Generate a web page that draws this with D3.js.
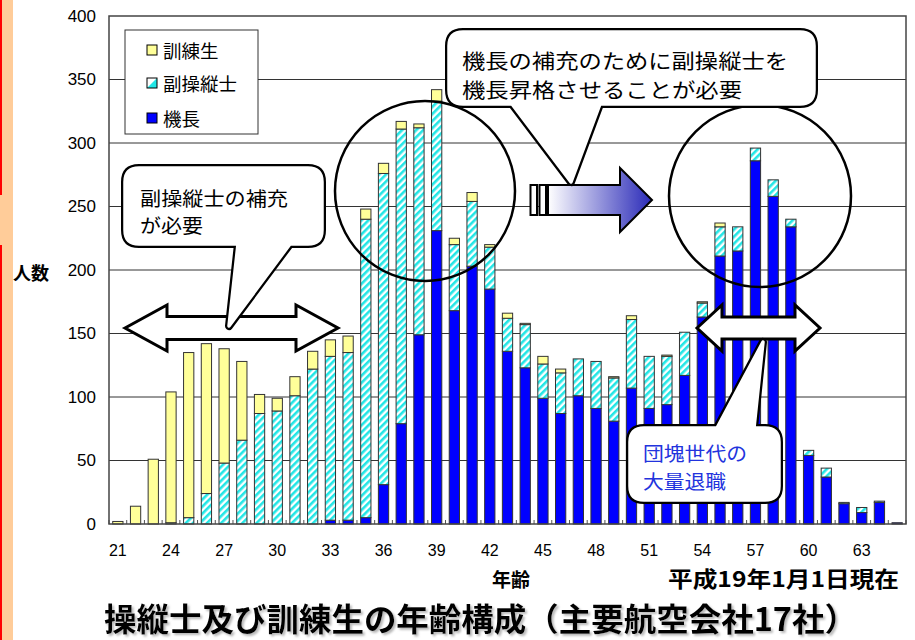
<!DOCTYPE html>
<html><head><meta charset="utf-8">
<script src="https://cdn.jsdelivr.net/npm/d3@7"></script>
<style>
html,body{margin:0;padding:0;background:#fff;}
svg{display:block;}
</style>
</head><body>
<svg id="chart" width="915" height="640"></svg>
<script>
// ---------------- data ----------------
const ages = d3.range(21, 66); // 21..65
const captain = [0,0,0,0,0,0,0,0,0,0,0,0,3,3,5,31,79,149,231,168,203,185,136,123,99,87,101,91,81,107,91,94,117,163,211,215,286,258,234,54,37,16,9,17,1];
const firstOfficer = [0,0,0,1,5,24,48,66,87,89,101,122,129,132,235,245,232,163,102,52,51,33,26,34,27,32,29,37,34,54,41,38,34,11,23,19,10,13,6,4,7,1,4,1,0];
const trainee = [2,14,51,103,130,118,90,62,15,10,15,14,13,13,8,8,6,3,9,5,7,2,4,1,6,3,0,0,1,3,0,1,0,1,3,0,0,0,0,0,0,0,0,0,0];
const seriesKeys = ["captain","firstOfficer","trainee"];
const seriesNames = ["機長","副操縦士","訓練生"];
const yTicks = [0,50,100,150,200,250,300,350,400];
const xTickLabels = [21,24,27,30,33,36,39,42,45,48,51,54,57,60,63];

const rows = ages.map((a,i)=>({age:a, captain:captain[i], firstOfficer:firstOfficer[i], trainee:trainee[i]}));

// ---------------- setup ----------------
const svg = d3.select("#chart");
const W = 915, H = 640;
const plot = {left:109, right:906, top:16, bottom:524};
const JP = "'Noto Sans CJK JP', 'Noto Sans', sans-serif";
const NUM = "'Liberation Sans', Arial, sans-serif";
const colors = {captain:"#0000ff", trainee:"#ffff99", cyan:"#22e6e6"};

const x = d3.scaleBand().domain(ages).range([plot.left, plot.right]).paddingInner(0.42).paddingOuter(0.21);
const y = d3.scaleLinear().domain([0,400]).range([plot.bottom, plot.top]);

const defs = svg.append("defs");
const pat = defs.append("pattern").attr("id","hatch").attr("patternUnits","userSpaceOnUse")
  .attr("width",5).attr("height",5).attr("patternTransform","rotate(45)");
pat.append("rect").attr("width",5).attr("height",5).attr("fill","#fff");
pat.append("rect").attr("width",2.6).attr("height",5).attr("fill",colors.cyan);

const grad = defs.append("linearGradient").attr("id","arrowGrad").attr("x1","0%").attr("x2","100%").attr("y1","0%").attr("y2","0%");
grad.append("stop").attr("offset","0%").attr("stop-color","#ffffff");
grad.append("stop").attr("offset","100%").attr("stop-color","#2a2ab8");

const shadow = defs.append("filter").attr("id","shadow").attr("x","-5%").attr("y","-30%").attr("width","110%").attr("height","160%");
shadow.append("feDropShadow").attr("dx",2).attr("dy",2).attr("stdDeviation",1.2).attr("flood-color","#888").attr("flood-opacity",0.6);

// page background + left strip
svg.append("rect").attr("width",W).attr("height",H).attr("fill","#fff");
svg.append("rect").attr("x",0).attr("y",0).attr("width",13).attr("height",H).attr("fill","#ffcc99");
svg.append("rect").attr("x",0).attr("y",0).attr("width",2).attr("height",195).attr("fill","#ff0000");
svg.append("rect").attr("x",0).attr("y",245).attr("width",2).attr("height",H-245).attr("fill","#ff0000");

// gridlines
svg.append("g").selectAll("line").data(yTicks.filter(d=>d>0 && d<400)).join("line")
  .attr("x1",plot.left).attr("x2",plot.right)
  .attr("y1",d=>y(d)).attr("y2",d=>y(d))
  .attr("stroke","#333").attr("stroke-width",1);

// bars
const stack = d3.stack().keys(seriesKeys)(rows);
const fills = {captain:colors.captain, firstOfficer:"url(#hatch)", trainee:colors.trainee};
svg.append("g").selectAll("g").data(stack).join("g")
  .attr("fill",d=>fills[d.key])
  .selectAll("rect").data(d=>d.filter(s=>s[1]-s[0]>0)).join("rect")
  .attr("x",d=>x(d.data.age)).attr("width",x.bandwidth())
  .attr("y",d=>y(d[1])).attr("height",d=>y(d[0])-y(d[1]))
  .attr("stroke","#333").attr("stroke-width",1);

// category boundary ticks
svg.append("g").selectAll("line").data(d3.range(ages.length+1)).join("line")
  .attr("x1",i=>plot.left+i*x.step()).attr("x2",i=>plot.left+i*x.step())
  .attr("y1",plot.bottom).attr("y2",plot.bottom-4)
  .attr("stroke","#555").attr("stroke-width",1);

// frame
svg.append("rect").attr("x",plot.left).attr("y",plot.top)
  .attr("width",plot.right-plot.left).attr("height",plot.bottom-plot.top)
  .attr("fill","none").attr("stroke","#444").attr("stroke-width",1.5);

// axes
const yAxis = svg.append("g").attr("transform",`translate(${plot.left},0)`)
  .call(d3.axisLeft(y).tickValues(yTicks).tickSize(0).tickPadding(13));
yAxis.select(".domain").remove();
yAxis.selectAll("text").attr("font-family",NUM).attr("font-size",17).attr("fill","#000");

const xAxis = svg.append("g").attr("transform",`translate(0,${plot.bottom})`)
  .call(d3.axisBottom(x).tickValues(xTickLabels).tickSize(0).tickPadding(21));
xAxis.select(".domain").remove();
xAxis.selectAll("text").attr("font-family",NUM).attr("font-size",16).attr("fill","#000");

// axis titles
svg.append("text").attr("x",13).attr("y",272).attr("dominant-baseline","central")
  .attr("font-family",JP).attr("font-size",18).attr("font-weight","bold").text("人数");
svg.append("text").attr("x",511).attr("y",578).attr("text-anchor","middle").attr("dominant-baseline","central")
  .attr("font-family",JP).attr("font-size",19).attr("font-weight","bold").text("年齢");
svg.append("text").attr("x",668).attr("y",577.5).attr("dominant-baseline","central")
  .attr("textLength",231).attr("lengthAdjust","spacingAndGlyphs")
  .attr("font-family",JP).attr("font-size",21.5).attr("font-weight","bold").text("平成19年1月1日現在");

// title with soft shadow
const titleText = "操縦士及び訓練生の年齢構成（主要航空会社17社）";
svg.append("text").attr("x",104).attr("y",616.5).attr("dominant-baseline","central")
  .attr("textLength",753).attr("lengthAdjust","spacingAndGlyphs")
  .attr("filter","url(#shadow)")
  .attr("font-family",JP).attr("font-size",32).attr("font-weight","bold").attr("fill","#000").text(titleText);

// ---------------- annotations ----------------
const ann = svg.append("g");
// circles
ann.append("circle").attr("cx",425).attr("cy",191).attr("r",90).attr("fill","none").attr("stroke","#000").attr("stroke-width",2.5);
ann.append("circle").attr("cx",760).attr("cy",196).attr("r",91).attr("fill","none").attr("stroke","#000").attr("stroke-width",2.5);

// gradient arrow
ann.append("rect").attr("x",530.5).attr("y",185).attr("width",6.5).attr("height",30).attr("fill","#fff").attr("stroke","#000").attr("stroke-width",2);
ann.append("rect").attr("x",539.5).attr("y",185).attr("width",6.5).attr("height",30).attr("fill","#fff").attr("stroke","#000").attr("stroke-width",2);
ann.append("path").attr("d","M548,185 H620 V168 L652,200 L620,232 V215 H548 Z")
  .attr("fill","url(#arrowGrad)").attr("stroke","#000").attr("stroke-width",2);

function doubleArrow(xl,xr,cy,hl,hh,bh){
  return `M${xl},${cy} L${xl+hl},${cy-hh} V${cy-bh} H${xr-hl} V${cy-hh} L${xr},${cy} L${xr-hl},${cy+hh} V${cy+bh} H${xl+hl} V${cy+hh} Z`;
}
ann.append("path").attr("d",doubleArrow(125,338,328,42,23,11.5))
  .attr("fill","#fff").attr("stroke","#000").attr("stroke-width",3);
ann.append("path").attr("d",doubleArrow(697,820,328,25,23,11))
  .attr("fill","#fff").attr("stroke","#000").attr("stroke-width",3);

function callout(x0,y0,x1,y1,r,t){
  if(t.edge==="bottom"){
    return `M${x0+r},${y0} H${x1-r} Q${x1},${y0} ${x1},${y0+r} V${y1-r} Q${x1},${y1} ${x1-r},${y1} H${t.b} L${t.tx},${t.ty} L${t.a},${y1} H${x0+r} Q${x0},${y1} ${x0},${y1-r} V${y0+r} Q${x0},${y0} ${x0+r},${y0} Z`;
  }
  return `M${x0+r},${y0} H${t.a} L${t.tx},${t.ty} L${t.b},${y0} H${x1-r} Q${x1},${y0} ${x1},${y0+r} V${y1-r} Q${x1},${y1} ${x1-r},${y1} H${x0+r} Q${x0},${y1} ${x0},${y1-r} V${y0+r} Q${x0},${y0} ${x0+r},${y0} Z`;
}
function drawCallout(d){
  ann.append("path").attr("d",d).attr("fill","#fff").attr("stroke","#000").attr("stroke-width",8).attr("stroke-linejoin","round");
  ann.append("path").attr("d",d).attr("fill","#fff").attr("stroke","#fff").attr("stroke-width",3.5).attr("stroke-linejoin","round");
}
drawCallout(callout(449,32,814,104,14,{edge:"bottom",a:512,b:600,tx:571,ty:182}));
drawCallout(callout(125,168,322,244,14,{edge:"bottom",a:238,b:290,tx:229,ty:326}));
drawCallout(callout(630,428,779,500,14,{edge:"top",a:717,b:754,tx:763,ty:342}));

// multi-line text as one element with tspans
function lines(xp, y0, dy, txts, size, color, len){
  const el = ann.append("text").attr("font-family",JP).attr("font-size",size).attr("fill",color)
    .attr("dominant-baseline","central");
  txts.forEach((t,i)=>{
    const ts = el.append("tspan").attr("x",xp).attr("y",y0+i*dy).text(t);
    if(len && len[i]) ts.attr("textLength",len[i]).attr("lengthAdjust","spacingAndGlyphs");
  });
}
lines(462,60,29,["機長の補充のために副操縦士を","機長昇格させることが必要"],20,"#000",[326,280]);
lines(140,196.5,27.5,["副操縦士の補充","が必要"],19,"#000",[148,63]);
lines(643,452,27.5,["団塊世代の","大量退職"],19,"#2233dd",[104,83]);

// ---------------- legend ----------------
const lg = svg.append("g");
lg.append("rect").attr("x",125).attr("y",30).attr("width",133).attr("height",104)
  .attr("fill","#fff").attr("stroke","#333").attr("stroke-width",1);
const legendItems = [
  {key:"trainee", name:seriesNames[2], cy:50},
  {key:"firstOfficer", name:seriesNames[1], cy:83},
  {key:"captain", name:seriesNames[0], cy:118}
];
legendItems.forEach(it=>{
  const sx=147, s=10, sy=it.cy-5;
  if(it.key==="firstOfficer"){
    lg.append("rect").attr("x",sx).attr("y",sy).attr("width",s).attr("height",s).attr("fill","#fff");
    lg.append("path").attr("d",`M${sx+s},${sy} L${sx+s},${sy+s} L${sx},${sy+s} Z`).attr("fill",colors.cyan);
    lg.append("rect").attr("x",sx).attr("y",sy).attr("width",s).attr("height",s).attr("fill","none").attr("stroke","#000").attr("stroke-width",1);
  } else {
    lg.append("rect").attr("x",sx).attr("y",sy).attr("width",s).attr("height",s)
      .attr("fill",it.key==="trainee"?colors.trainee:colors.captain).attr("stroke","#000").attr("stroke-width",1);
  }
  lg.append("text").attr("x",163).attr("y",it.cy).attr("dominant-baseline","central")
    .attr("font-family",JP).attr("font-size",18.5).attr("fill","#000").text(it.name);
});
</script>
</body></html>
